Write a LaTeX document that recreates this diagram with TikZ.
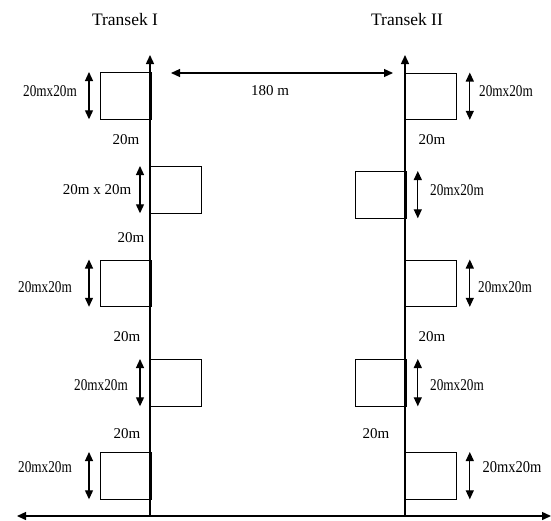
\documentclass[tikz,border=0pt]{standalone}
\usepackage{fontspec}
\setmainfont{Liberation Serif}
\usetikzlibrary{arrows.meta}
\begin{document}
\begin{tikzpicture}[x=1pt,y=-1pt,
  plotbox/.style={draw, line width=0.8pt, minimum width=51pt, minimum height=46.5pt, inner sep=0pt, anchor=north west},
  lbl/.style={font=\fontsize{15}{17}\selectfont, inner sep=0pt},
  sqlbl/.style={font=\fontsize{16.5}{18}\selectfont, inner sep=0pt},
  ttl/.style={font=\fontsize{17.5}{20}\selectfont, inner sep=0pt},
  dimarrow/.style={line width=1.2pt, {Triangle[length=9pt,width=8pt]}-{Triangle[length=9pt,width=8pt]}},
  axisarrow/.style={line width=1.4pt, -{Triangle[length=9pt,width=8pt]}}]
\useasboundingbox (0,0) rectangle (551,520);
\newcommand{\sq}{\scalebox{0.8}[1]{20mx20m}}
% titles
\node[ttl] (t1) at (125,20) {Transek I};
\node[ttl] (t2) at (407,20) {Transek II};
% transect I boxes
\node[plotbox] (L1) at (100,72) {};
\node[plotbox] (L2) at (150,166) {};
\node[plotbox] (L3) at (100,259.5) {};
\node[plotbox] (L4) at (150,359) {};
\node[plotbox] (L5) at (100,452) {};
% transect II boxes
\node[plotbox] (R1) at (405,72.5) {};
\node[plotbox] (R2) at (355,171) {};
\node[plotbox] (R3) at (405,259.5) {};
\node[plotbox] (R4) at (355,359) {};
\node[plotbox] (R5) at (405,452) {};
% transect lines and base line
\coordinate (T1b) at (150,516);
\coordinate (T1t) at (150,55);
\coordinate (T2b) at (405,516);
\coordinate (T2t) at (405,55);
\coordinate (Bl) at (17,516);
\coordinate (Br) at (551,516);
\draw[axisarrow] (T1b) -- (T1t);
\draw[axisarrow] (T2b) -- (T2t);
\draw[line width=1.4pt, {Triangle[length=9pt,width=8pt]}-{Triangle[length=9pt,width=8pt]}] (Bl) -- (Br);
% 180 m
\coordinate (Da) at (171,73);
\coordinate (Db) at (393,73);
\draw[dimarrow] (Da) -- (Db);
\node[lbl] (d180) at (270,91) {180 m};
% dimension arrows transect I
\draw[dimarrow] ([xshift=-11pt]L1.north west) -- ([xshift=-11pt]L1.south west);
\draw[dimarrow] ([xshift=-10pt]L2.north west) -- ([xshift=-10pt]L2.south west);
\draw[dimarrow] ([xshift=-11pt]L3.north west) -- ([xshift=-11pt]L3.south west);
\draw[dimarrow] ([xshift=-10pt]L4.north west) -- ([xshift=-10pt]L4.south west);
\draw[dimarrow] ([xshift=-11pt]L5.north west) -- ([xshift=-11pt]L5.south west);
% dimension arrows transect II
\draw[dimarrow] ([xshift=13pt]R1.north east) -- ([xshift=13pt]R1.south east);
\draw[dimarrow] ([xshift=11pt]R2.north east) -- ([xshift=11pt]R2.south east);
\draw[dimarrow] ([xshift=13pt]R3.north east) -- ([xshift=13pt]R3.south east);
\draw[dimarrow] ([xshift=11pt]R4.north east) -- ([xshift=11pt]R4.south east);
\draw[dimarrow] ([xshift=13pt]R5.north east) -- ([xshift=13pt]R5.south east);
% size labels transect I
\node[sqlbl] (sL1) at (50,91) {\sq};
\node[lbl] (sL2) at (97,190) {20m x 20m};
\node[sqlbl] (sL3) at (45,287) {\sq};
\node[sqlbl] (sL4) at (101,385) {\sq};
\node[sqlbl] (sL5) at (45,467) {\sq};
% size labels transect II
\node[sqlbl] (sR1) at (506,91) {\sq};
\node[sqlbl] (sR2) at (457,190) {\sq};
\node[sqlbl] (sR3) at (505,287) {\sq};
\node[sqlbl] (sR4) at (457,385) {\sq};
\node[sqlbl] (sR5) at (512,467) {\scalebox{0.88}[1]{20mx20m}};
% gap labels
\node[lbl] (gL1) at (126,140) {20m};
\node[lbl] (gL2) at (131,238) {20m};
\node[lbl] (gL3) at (127,337) {20m};
\node[lbl] (gL4) at (127,434) {20m};
\node[lbl] (gR1) at (432,140) {20m};
\node[lbl] (gR2) at (432,337) {20m};
\node[lbl] (gR3) at (376,434) {20m};
\end{tikzpicture}
\end{document}
